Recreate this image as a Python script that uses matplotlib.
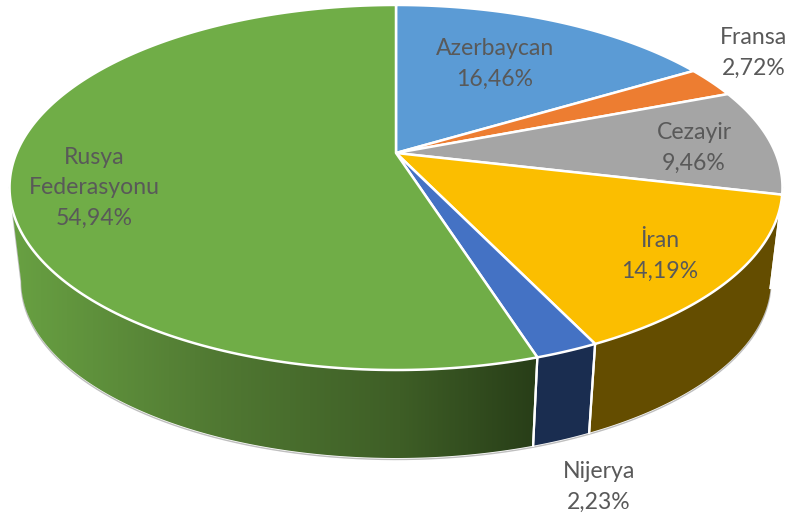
import numpy as np
import matplotlib
matplotlib.use("Agg")
import matplotlib.pyplot as plt
from matplotlib.patches import Polygon

countries = ["Azerbaycan", "Fransa", "Cezayir", "İran", "Nijerya", "Rusya\nFederasyonu"]
shares = [16.46, 2.72, 9.46, 14.19, 2.23, 54.94]
top_colors = ["#5B9BD5", "#ED7D31", "#A5A5A5", "#FBBE00", "#4472C4", "#70AD47"]
side_colors = ["#2E5C85", "#8A4513", "#636363", "#644D00", "#1A2D50", "#3E5E26"]
label_xy = [(495, 64), (754, 53), (694, 148), (660, 256), (599, 487), (94, 188)]

plt.rcParams["font.family"] = ["Lato", "DejaVu Sans"]

# pie geometry in pixels, perspective disc seen from above
cx, cy = 396, 153
a, b, k = 379.5, 176, 0.189
low_scale, low_cy = 0.97, 247.5


def project(theta, r=1.0, scale=1.0, yc=cy):
    u, v = r * np.sin(theta), r * np.cos(theta)
    w = 1 + k * v
    return cx + scale * a * u / w, yc - scale * b * v / w


fig = plt.figure(figsize=(7.9, 5.2), dpi=100)
ax = fig.add_axes([0, 0, 1, 1])
ax.set_xlim(0, 790)
ax.set_ylim(520, 0)
ax.axis("off")

edges = np.radians(np.concatenate([[0], np.cumsum(shares)]) * 3.6)
silhouette = (np.arccos(-k), 2 * np.pi - np.arccos(-k))

# outline behind everything
t = np.linspace(silhouette[0], silhouette[1], 300)
xt, yt = project(t)
xb, yb = project(t, scale=low_scale, yc=low_cy)
ax.plot(np.r_[xt[0], xb, xt[-1]], np.r_[yt[0], yb + 1.5, yt[-1]], color="#BFBFBF", lw=1, zorder=1)

# side walls, only the front part of the disc shows
green_x = [15, 220, 400, 535]
green_rgb = np.array([[104, 160, 66], [80, 120, 50], [62, 94, 38], [40, 62, 24]]) / 255
for i in range(len(shares)):
    start, end = max(edges[i], silhouette[0]), min(edges[i + 1], silhouette[1])
    if end <= start:
        continue
    t = np.linspace(start, end, 200)
    xt, yt = project(t)
    xb, yb = project(t, scale=low_scale, yc=low_cy)
    pts = np.c_[np.r_[xt, xb[::-1]], np.r_[yt, yb[::-1]]]
    if i == len(shares) - 1:
        poly = Polygon(pts, closed=True, facecolor="none", edgecolor="none", zorder=2)
        ax.add_patch(poly)
        xs = np.linspace(0, 790, 400)
        grad = np.stack([np.interp(xs, green_x, green_rgb[:, c]) for c in range(3)], axis=-1)[None, :, :]
        im = ax.imshow(grad, extent=[0, 790, 520, 0], aspect="auto", zorder=2)
        im.set_clip_path(poly)
    else:
        ax.add_patch(Polygon(pts, closed=True, facecolor=side_colors[i], edgecolor="none", zorder=2))
    # white seam at the slice borders
    for th in (start, end):
        if th not in silhouette:
            x0, y0 = project(th)
            x1, y1 = project(th, scale=low_scale, yc=low_cy)
            ax.plot([x0, x1], [y0, y1], color="white", lw=1.6, zorder=3)

# top faces
for i in range(len(shares)):
    t = np.linspace(edges[i], edges[i + 1], 200)
    xt, yt = project(t)
    pts = np.c_[np.r_[cx, xt], np.r_[cy, yt]]
    ax.add_patch(Polygon(pts, closed=True, facecolor=top_colors[i], edgecolor="white",
                         lw=1.8, joinstyle="round", zorder=4))

# labels
for name, share, (x, y) in zip(countries, shares, label_xy):
    value = f"{share:.2f}%".replace(".", ",")
    ax.text(x, y, f"{name}\n{value}", ha="center", va="center", fontsize=16.6,
            color="#595959", linespacing=1.55, zorder=5)

fig.savefig("out.png", dpi=100)
